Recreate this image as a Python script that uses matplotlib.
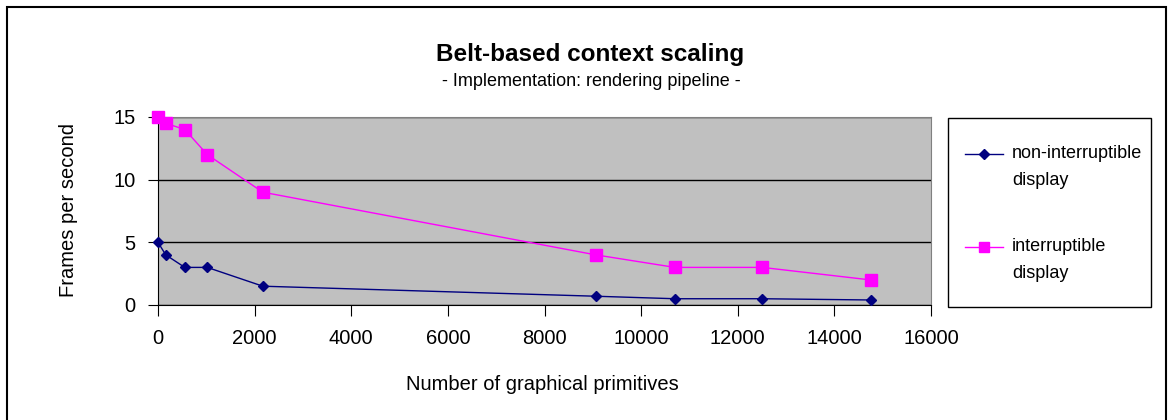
import numpy as np
import matplotlib.pyplot as plt
from matplotlib.lines import Line2D
from matplotlib.patches import Rectangle

plt.rcParams['font.family'] = ['Liberation Sans', 'DejaVu Sans']

# data
primitives = [0, 160, 555, 1020, 2170, 9060, 10700, 12505, 14750]
fps_non_interruptible = [5, 4, 3, 3, 1.5, 0.7, 0.5, 0.5, 0.4]
fps_interruptible = [15, 14.5, 14, 12, 9, 4, 3, 3, 2]
series_labels = ['non-interruptible\ndisplay', 'interruptible\ndisplay']
xticks = list(range(0, 16001, 2000))
yticks = [0, 5, 10, 15]

W, H = 1173, 420
fig = plt.figure(figsize=(W / 100, H / 100), dpi=100)

def px(x, y):
    # pixel position (from top-left) -> figure fraction
    return x / W, (H - y) / H

# plot area
l, t = px(158, 117)
r, b = px(931, 305)
ax = fig.add_axes([l, b, r - l, t - b])
ax.set_facecolor('#C0C0C0')

colors = ['#000080', '#FF00FF']
styles = [dict(marker='D', markersize=5.4), dict(marker='s', markersize=8)]

for ys, c, st in zip([fps_non_interruptible, fps_interruptible], colors, styles):
    ax.plot(primitives, ys, color=c, lw=1, markerfacecolor=c,
            markeredgecolor=c, clip_on=False, zorder=3, **st)

ax.set_xlim(0, 16000)
ax.set_ylim(0, 15)
ax.set_xticks(xticks)
ax.set_yticks(yticks)
ax.tick_params(axis='both', labelsize=14.5, direction='out', color='black')
ax.tick_params(axis='x', length=8, pad=9)
ax.tick_params(axis='y', length=7, pad=9)
ax.yaxis.grid(True, color='black', lw=1)
ax.set_axisbelow(True)

for s in ['top', 'right']:
    ax.spines[s].set_color('#808080')
for s in ['left', 'bottom']:
    ax.spines[s].set_color('black')

ax.set_xlabel('Number of graphical primitives', fontsize=14.5)
ax.set_ylabel('Frames per second', fontsize=14.5)
ax.xaxis.set_label_coords((542.5 - 158) / 773, (305 - 385) / 188)
ax.yaxis.set_label_coords((69 - 158) / 773, (305 - 210) / 188)
ax.xaxis.label.set_va('center')
ax.yaxis.label.set_va('center')

# titles
fig.text(*px(590.5, 54), 'Belt-based context scaling', fontsize=17.5,
         fontweight='bold', ha='center', va='center')
fig.text(*px(591, 82), '- Implementation: rendering pipeline -', fontsize=13,
         ha='center', va='center')

# legend box drawn by hand to follow the original layout
x0, y0 = px(948, 307)
x1, y1 = px(1151, 118)
fig.patches.append(Rectangle((x0, y0), x1 - x0, y1 - y0, transform=fig.transFigure,
                             facecolor='white', edgecolor='black', lw=1))
for i, (lab, c, st) in enumerate(zip(series_labels, colors, styles)):
    ly = [154, 247][i]
    lx0, yy = px(965, ly)
    lx1, _ = px(1003, ly)
    ms = st['markersize'] * 0.9
    fig.lines.append(Line2D([lx0, lx1], [yy, yy], transform=fig.transFigure,
                            color=c, lw=1))
    fig.lines.append(Line2D([(lx0 + lx1) / 2], [yy], transform=fig.transFigure,
                            color=c, marker=st['marker'], markersize=ms,
                            markerfacecolor=c, markeredgecolor=c))
    tx, ty = px(1012, ly + 13)
    fig.text(tx, ty, lab, fontsize=13, ha='left', va='center', linespacing=1.75)

# outer chart border
fig.patches.append(Rectangle(px(7, 425), (1166 - 7) / W, (425 - 7) / H,
                             transform=fig.transFigure, facecolor='none',
                             edgecolor='black', lw=1.5, clip_on=False))

fig.savefig('out.png', dpi=100)
